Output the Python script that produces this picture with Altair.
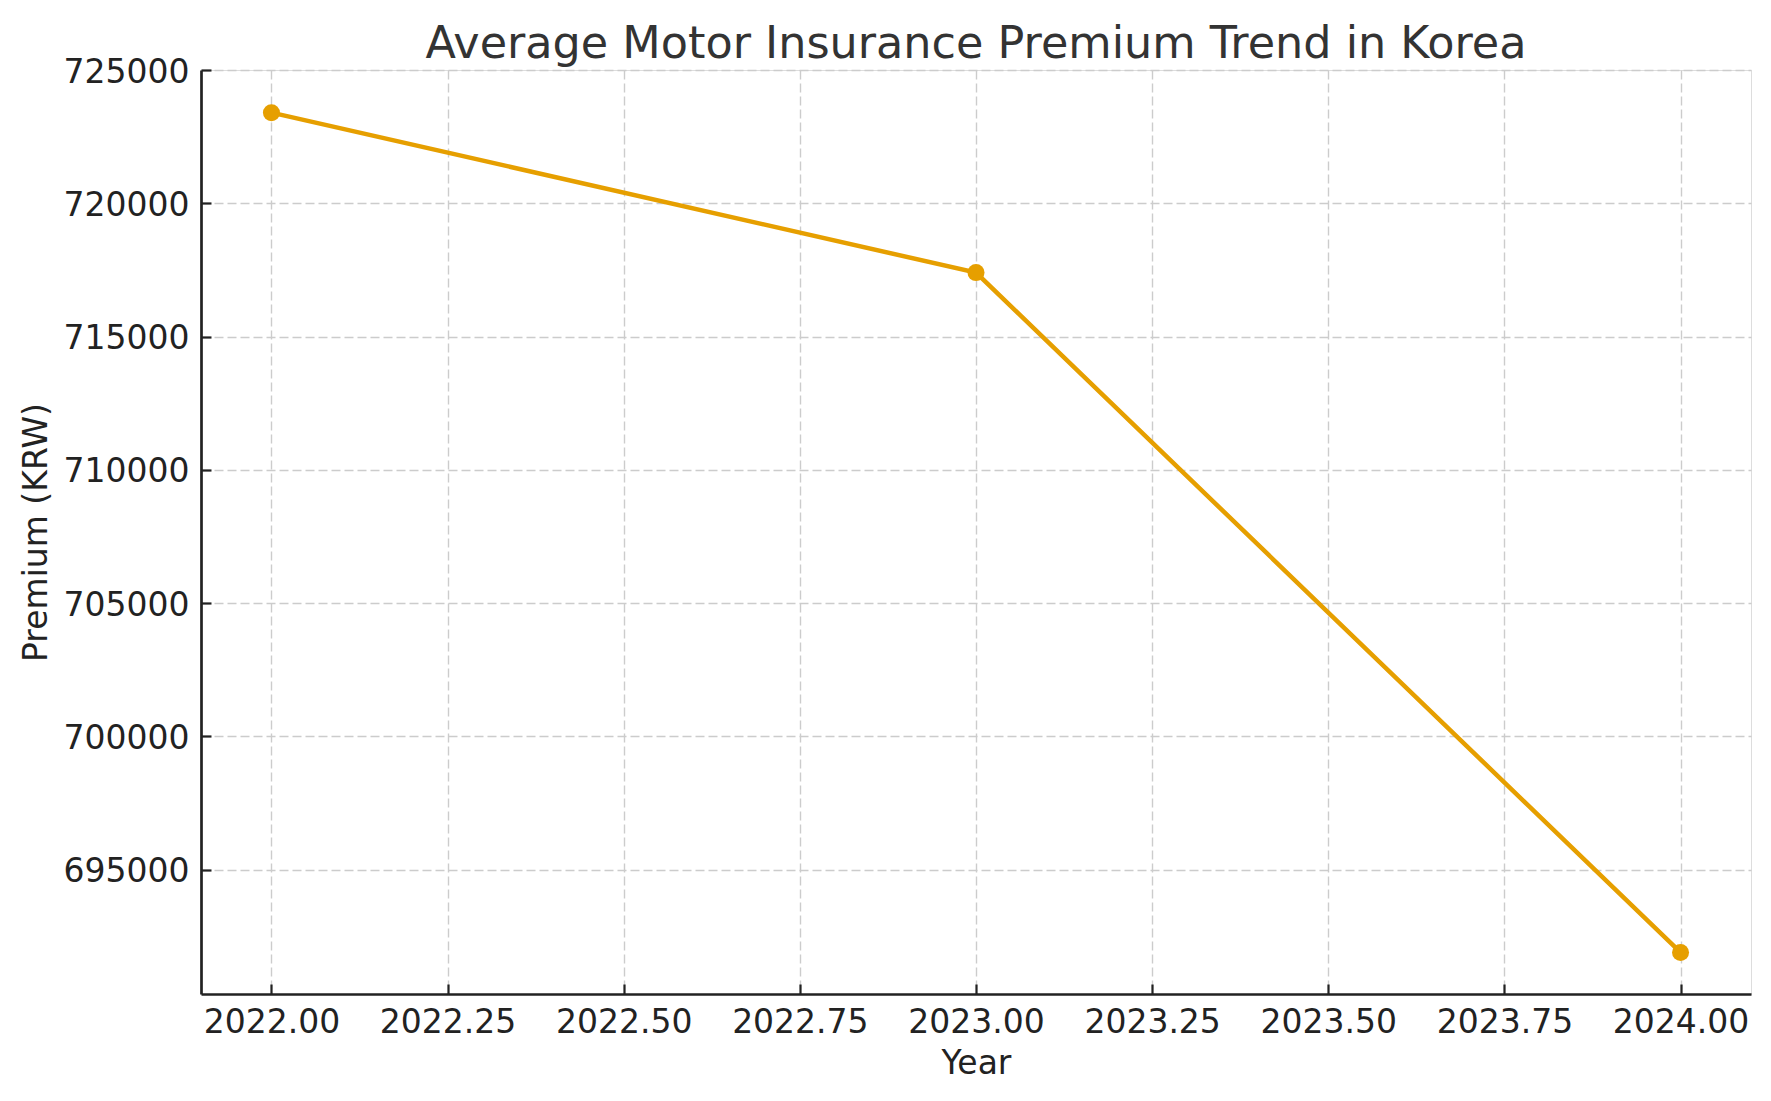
import altair as alt
import pandas as pd

# Data
years = [2022, 2023, 2024]
premiums = [723400, 717400, 691900]

x_tick_values = [2022.0, 2022.25, 2022.5, 2022.75, 2023.0, 2023.25, 2023.5, 2023.75, 2024.0]
y_tick_values = [695000, 700000, 705000, 710000, 715000, 720000, 725000]

x_domain = [2021.9, 2024.1]
y_domain = [690340, 725000]

title_text = "Average Motor Insurance Premium Trend in Korea"
x_title = "Year"
y_title = "Premium (KRW)"

df = pd.DataFrame({"Year": years, "Premium": premiums})

FONT = "DejaVu Sans"
ORANGE = "#E69F00"
DARK = "#222222"

x_scale = alt.Scale(domain=x_domain, nice=False, zero=False)
y_scale = alt.Scale(domain=y_domain, nice=False, zero=False)

common_axis = dict(
    grid=True,
    gridColor="#cccccc",
    gridDash=[9, 4],
    gridWidth=1.4,
    domain=True,
    domainColor=DARK,
    domainWidth=2.7,
    ticks=False,
    tickSize=0,
    labelFont=FONT,
    labelFontSize=33,
    labelColor=DARK,
    titleFont=FONT,
    titleFontSize=33,
    titleColor=DARK,
    titleFontWeight="normal",
    labelOverlap=False,
    labelFlush=False,
)

x_axis = alt.Axis(values=x_tick_values, format=".2f", title=x_title, orient="bottom",
                  labelPadding=12, titlePadding=8, **common_axis)
y_axis = alt.Axis(values=y_tick_values, format="d", title=y_title, orient="left",
                  labelPadding=12, titlePadding=10, labelOffset=2, **common_axis)

base = alt.Chart(df)

line = base.mark_line(color=ORANGE, strokeWidth=4.5).encode(
    x=alt.X("Year:Q", scale=x_scale, axis=x_axis),
    y=alt.Y("Premium:Q", scale=y_scale, axis=y_axis),
)

points = base.mark_circle(color=ORANGE, size=290, opacity=1).encode(
    x=alt.X("Year:Q", scale=x_scale, axis=None),
    y=alt.Y("Premium:Q", scale=y_scale, axis=None),
)

# inward-pointing ticks: an extra tick-only axis pulled into the plot
tick_axis_common = dict(domain=False, labels=False, grid=False, ticks=True, tickSize=10,
                        tickWidth=2.2, tickColor=DARK, offset=-10, title=None)
tick_layer = base.mark_point(opacity=0).encode(
    x=alt.X("Year:Q", scale=x_scale, axis=alt.Axis(values=x_tick_values, orient="bottom", **tick_axis_common)),
    y=alt.Y("Premium:Q", scale=y_scale, axis=alt.Axis(values=y_tick_values, orient="left", **tick_axis_common)),
)

chart = alt.layer(line, points, tick_layer).resolve_axis(
    x="independent", y="independent"
).properties(
    width=1550,
    height=924,
    title=alt.TitleParams(title_text, font=FONT, fontSize=44.5, color="#333333",
                          fontWeight="normal", anchor="middle", offset=7, dy=18),
    autosize=alt.AutoSizeParams(type="none"),
    padding={"left": 193, "top": 62, "right": 10, "bottom": 90},
).configure_view(stroke=None).configure(background="white")

chart.save("out.html", embed_options={"renderer": "svg", "actions": False})
